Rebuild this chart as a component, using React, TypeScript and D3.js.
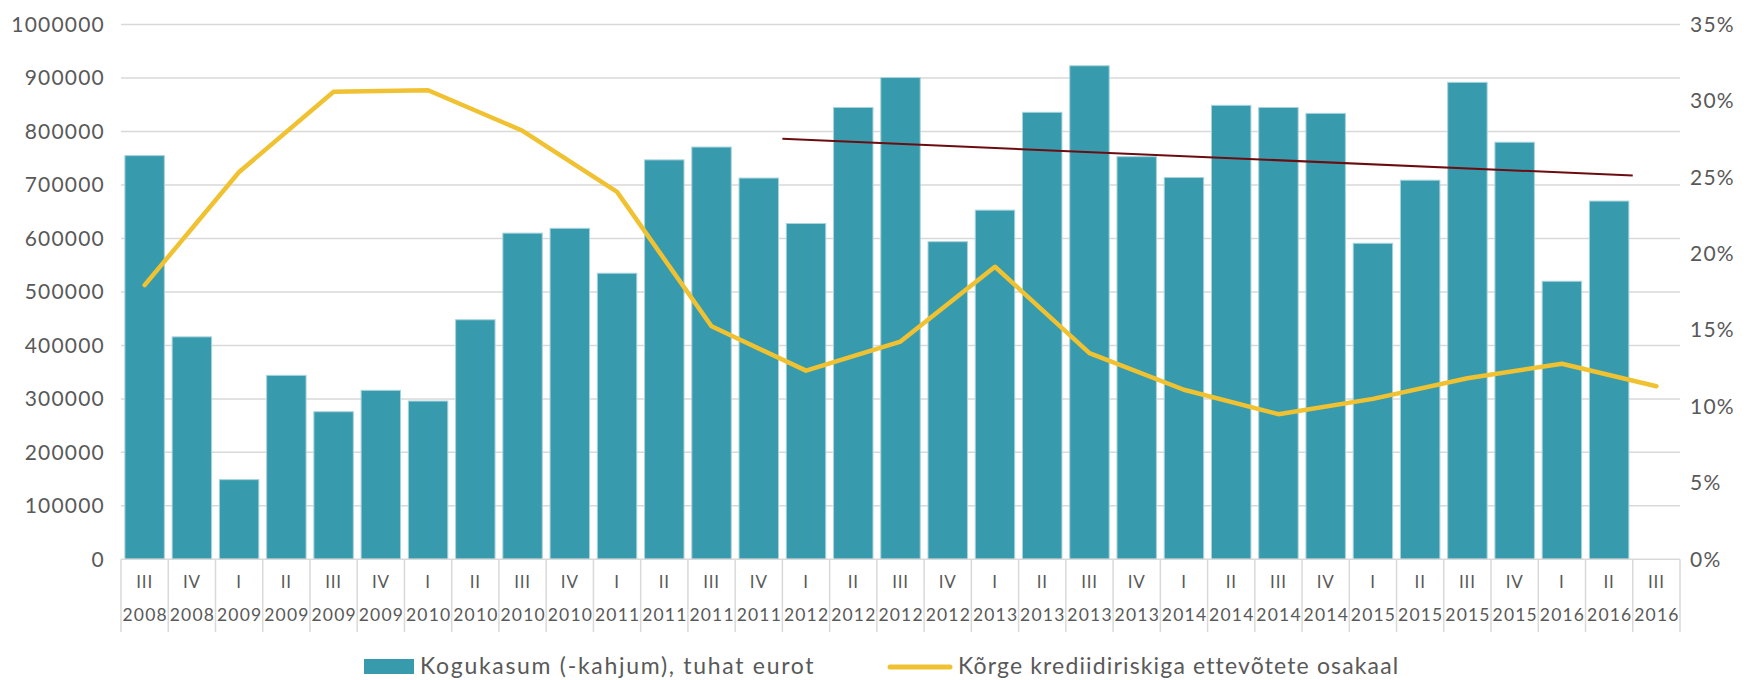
import React, { useEffect, useRef } from "react";
import * as d3 from "d3";

// quarters and years on the category axis
const quarters = [
  "III", "IV",
  "I", "II", "III", "IV",
  "I", "II", "III", "IV",
  "I", "II", "III", "IV",
  "I", "II", "III", "IV",
  "I", "II", "III", "IV",
  "I", "II", "III", "IV",
  "I", "II", "III", "IV",
  "I", "II", "III",
];
const years = [
  "2008", "2008",
  "2009", "2009", "2009", "2009",
  "2010", "2010", "2010", "2010",
  "2011", "2011", "2011", "2011",
  "2012", "2012", "2012", "2012",
  "2013", "2013", "2013", "2013",
  "2014", "2014", "2014", "2014",
  "2015", "2015", "2015", "2015",
  "2016", "2016", "2016",
];

// Kogukasum (-kahjum), tuhat eurot
const profit = [
  755000, 416000,
  149000, 344000, 276000, 316000,
  296000, 448000, 610000, 619000,
  535000, 747000, 771000, 713000,
  628000, 845000, 901000, 594000,
  653000, 836000, 923000, 753000,
  714000, 849000, 845000, 834000,
  591000, 709000, 892000, 780000,
  520000, 670000, null,
];

// Kõrge krediidiriskiga ettevõtete osakaal (only I and III quarters)
const riskShare = [
  0.1795, null,
  0.2535, null, 0.306, null,
  0.307, null, 0.2805, null,
  0.2405, null, 0.1525, null,
  0.1235, null, 0.1425, null,
  0.1915, null, 0.135, null,
  0.111, null, 0.095, null,
  0.105, null, 0.1185, null,
  0.128, null, 0.1133,
];

const leftTicks = [0, 100000, 200000, 300000, 400000, 500000, 600000, 700000, 800000, 900000, 1000000];
const rightTicks = [0, 0.05, 0.1, 0.15, 0.2, 0.25, 0.3, 0.35];

// trend line on the bars from I 2012 to II 2016
const trendFrom = 14;
const trendTo = 31;

const W = 1754;
const H = 680;
const FONT = "Lato, 'DejaVu Sans', sans-serif";
const TEXT = "#595959";
const BAR = "#389BAD";
const LINE = "#F0C232";

const App = () => {
  const ref = useRef(null);

  useEffect(() => {
    const root = d3.select(ref.current);
    root.selectAll("*").remove();
    const svg = root
      .append("svg")
      .attr("width", W)
      .attr("height", H)
      .style("position", "absolute")
      .style("left", 0)
      .style("top", 0)
      .style("background", "#fff");

    const left = 121;
    const right = 1680;
    const top = 24.6;
    const bottom = 559.3;

    const idx = quarters.map((_, i) => i);
    const x = d3
      .scaleBand()
      .domain(idx)
      .range([left, right])
      .paddingInner(0.165)
      .paddingOuter(0.0825);
    const step = x.step();
    const cx = (i) => x(i) + x.bandwidth() / 2;

    const y = d3.scaleLinear().domain([0, 1000000]).range([bottom, top]);
    const y2 = d3.scaleLinear().domain([0, 0.35]).range([bottom, top]);

    // gridlines
    svg
      .append("g")
      .selectAll("line")
      .data(leftTicks.slice(1))
      .enter()
      .append("line")
      .attr("x1", left)
      .attr("x2", right)
      .attr("y1", (d) => y(d))
      .attr("y2", (d) => y(d))
      .attr("stroke", "#D9D9D9")
      .attr("stroke-width", 1.5);

    // left axis labels
    svg
      .append("g")
      .selectAll("text")
      .data(leftTicks)
      .enter()
      .append("text")
      .attr("x", 105)
      .attr("y", (d) => y(d))
      .attr("dy", "0.35em")
      .attr("text-anchor", "end")
      .attr("font-family", FONT)
      .attr("font-size", 21)
      .attr("letter-spacing", 1.2)
      .attr("fill", TEXT)
      .text((d) => d);

    // right axis labels
    svg
      .append("g")
      .selectAll("text")
      .data(rightTicks)
      .enter()
      .append("text")
      .attr("x", 1690)
      .attr("y", (d) => y2(d))
      .attr("dy", "0.35em")
      .attr("font-family", FONT)
      .attr("font-size", 21)
      .attr("letter-spacing", 1.2)
      .attr("fill", TEXT)
      .text((d) => `${Math.round(d * 100)}%`);

    // bars
    svg
      .append("g")
      .selectAll("rect")
      .data(idx.filter((i) => profit[i] != null))
      .enter()
      .append("rect")
      .attr("x", (i) => x(i))
      .attr("y", (i) => y(profit[i]))
      .attr("width", x.bandwidth())
      .attr("height", (i) => bottom - y(profit[i]))
      .attr("fill", BAR)
      .attr("stroke", "#A8D3DC")
      .attr("stroke-width", 1);

    // category axis box
    const axis = svg.append("g");
    axis
      .append("line")
      .attr("x1", left)
      .attr("x2", right)
      .attr("y1", bottom)
      .attr("y2", bottom)
      .attr("stroke", "#D9D9D9")
      .attr("stroke-width", 1.5);
    axis
      .selectAll("line.sep")
      .data(d3.range(quarters.length + 1))
      .enter()
      .append("line")
      .attr("class", "sep")
      .attr("x1", (i) => left + i * step)
      .attr("x2", (i) => left + i * step)
      .attr("y1", bottom)
      .attr("y2", 632)
      .attr("stroke", "#D9D9D9")
      .attr("stroke-width", 1.5);
    axis
      .selectAll("text.q")
      .data(idx)
      .enter()
      .append("text")
      .attr("class", "q")
      .attr("x", cx)
      .attr("y", 582)
      .attr("dy", "0.35em")
      .attr("text-anchor", "middle")
      .attr("font-family", FONT)
      .attr("font-size", 17)
      .attr("letter-spacing", 0.8)
      .attr("fill", TEXT)
      .text((i) => quarters[i]);
    axis
      .selectAll("text.yr")
      .data(idx)
      .enter()
      .append("text")
      .attr("class", "yr")
      .attr("x", (i) => cx(i) + 0.6)
      .attr("y", 615)
      .attr("dy", "0.35em")
      .attr("text-anchor", "middle")
      .attr("font-family", FONT)
      .attr("font-size", 17.5)
      .attr("letter-spacing", 1.2)
      .attr("fill", TEXT)
      .text((i) => years[i]);

    // risk share line, gaps are bridged
    const pts = idx.filter((i) => riskShare[i] != null);
    const line = d3
      .line()
      .x((i) => cx(i))
      .y((i) => y2(riskShare[i]));
    svg
      .append("path")
      .datum(pts)
      .attr("d", line)
      .attr("fill", "none")
      .attr("stroke", LINE)
      .attr("stroke-width", 4.5)
      .attr("stroke-linecap", "round")
      .attr("stroke-linejoin", "round");

    // linear trend of bars
    const tIdx = d3.range(trendFrom, trendTo + 1);
    const mx = d3.mean(tIdx);
    const my = d3.mean(tIdx, (i) => profit[i]);
    const slope =
      d3.sum(tIdx, (i) => (i - mx) * (profit[i] - my)) /
      d3.sum(tIdx, (i) => (i - mx) * (i - mx));
    const tx0 = trendFrom - 0.5;
    const tx1 = trendTo + 0.5;
    svg
      .append("line")
      .attr("x1", cx(trendFrom) - step / 2)
      .attr("x2", cx(trendTo) + step / 2)
      .attr("y1", y(my + slope * (tx0 - mx)))
      .attr("y2", y(my + slope * (tx1 - mx)))
      .attr("stroke", "#6B0D10")
      .attr("stroke-width", 2);

    // legend
    const lg = svg.append("g");
    lg.append("rect")
      .attr("x", 364)
      .attr("y", 659)
      .attr("width", 50)
      .attr("height", 15)
      .attr("fill", BAR);
    lg.append("text")
      .attr("x", 420)
      .attr("y", 666)
      .attr("dy", "0.35em")
      .attr("font-family", FONT)
      .attr("font-size", 23)
      .attr("letter-spacing", 1.7)
      .attr("fill", TEXT)
      .text("Kogukasum (-kahjum), tuhat eurot");
    lg.append("line")
      .attr("x1", 890)
      .attr("x2", 950)
      .attr("y1", 667)
      .attr("y2", 667)
      .attr("stroke", LINE)
      .attr("stroke-width", 5)
      .attr("stroke-linecap", "round");
    lg.append("text")
      .attr("x", 958)
      .attr("y", 666)
      .attr("dy", "0.35em")
      .attr("font-family", FONT)
      .attr("font-size", 23)
      .attr("letter-spacing", 1.15)
      .attr("fill", TEXT)
      .text("Kõrge krediidiriskiga ettevõtete osakaal");
  }, []);

  return <div ref={ref} style={{ width: W, height: H }} />;
};

export default App;
